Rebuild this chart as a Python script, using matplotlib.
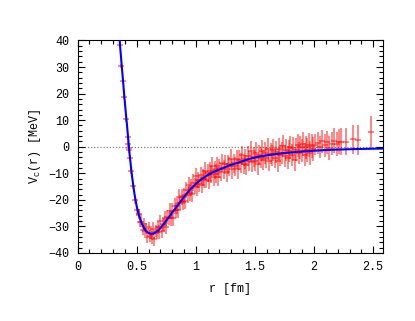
import matplotlib
matplotlib.use("Agg")
import matplotlib.pyplot as plt
from matplotlib.ticker import MultipleLocator

plt.rcParams['font.family'] = ['Liberation Mono', 'DejaVu Sans Mono']

# Fit curve (blue)
fit_r = [0.35, 0.36, 0.38, 0.40, 0.42, 0.43, 0.44, 0.46, 0.48, 0.50, 0.52, 0.54, 0.56, 0.58,
         0.60, 0.62, 0.64, 0.66, 0.68, 0.70, 0.73, 0.76, 0.80, 0.85, 0.90, 0.95, 1.00, 1.05,
         1.10, 1.15, 1.20, 1.28, 1.36, 1.45, 1.55, 1.65, 1.75, 1.85, 2.00, 2.15, 2.30, 2.45, 2.60]
fit_v = [44, 37.5, 27, 16.5, 7.0, 2.0, -3.0, -11.0, -17.5, -22.5, -26.0, -28.5, -30.5, -31.8,
         -32.5, -32.8, -32.7, -32.3, -31.6, -30.7, -29.0, -27.3, -24.8, -21.9, -18.9, -16.2, -14.0, -12.2,
         -10.7, -9.5, -8.6, -7.1, -6.0, -4.6, -3.6, -2.9, -2.4, -2.0, -1.5, -1.15, -0.95, -0.8, -0.7]

# Lattice data (red)
data_r = [0.356, 0.370, 0.381, 0.392, 0.413, 0.427, 0.425, 0.432, 0.436, 0.440, 0.455, 0.469, 0.488, 0.503, 0.517,
          0.52, 0.53, 0.54, 0.55, 0.56, 0.57, 0.58, 0.59, 0.60, 0.61, 0.62, 0.63, 0.64, 0.65, 0.66, 0.67,
          0.68, 0.69, 0.70, 0.71, 0.72, 0.73, 0.74, 0.75, 0.76, 0.77, 0.78, 0.79, 0.80, 0.81, 0.82, 0.83,
          0.84, 0.85, 0.86, 0.87, 0.88, 0.89, 0.90, 0.91, 0.92, 0.93, 0.94, 0.95, 0.96, 0.97, 0.98, 0.99,
          1.00, 1.01, 1.02, 1.03, 1.04, 1.05, 1.06, 1.07, 1.08, 1.09, 1.10, 1.11, 1.12, 1.13, 1.14, 1.15,
          1.16, 1.17, 1.18, 1.19,
          1.200, 1.212, 1.224, 1.236, 1.248, 1.260, 1.272, 1.284, 1.296, 1.308, 1.320, 1.332, 1.344, 1.356,
          1.368, 1.380, 1.392, 1.404, 1.416, 1.428, 1.440, 1.452, 1.464, 1.476, 1.488, 1.500, 1.512, 1.524,
          1.536, 1.548, 1.560, 1.572, 1.584, 1.596, 1.608, 1.620, 1.632, 1.644, 1.656, 1.668, 1.680, 1.692,
          1.704, 1.716, 1.728, 1.740, 1.752, 1.764, 1.776, 1.788, 1.800, 1.812, 1.824, 1.836, 1.848, 1.860,
          1.872, 1.884, 1.896, 1.908, 1.920, 1.932, 1.944, 1.956, 1.968, 1.980, 1.992,
          2.01, 2.03, 2.05, 2.07, 2.09, 2.11, 2.13, 2.15, 2.17, 2.19, 2.21, 2.23, 2.27, 2.33, 2.37, 2.48]
data_v = [38.2, 30.3, 24.8, 18.6, 10.3, 3.6, 1.0, -0.4, -1.2, -4.3, -9.0, -14.8, -20.0, -23.8, -25.7,
          -25.2, -28.5, -28.2, -31.5, -29.0, -31.7, -30.9, -33.9, -30.3, -33.5, -32.7, -34.2, -30.8, -34.9, -31.7, -32.2,
          -30.4, -32.2, -28.1, -31.9, -29.2, -29.6, -26.8, -30.1, -26.4, -27.0, -24.1, -27.0, -24.1, -27.0, -22.3, -24.0,
          -22.3, -23.8, -18.9, -21.1, -19.1, -20.8, -18.4, -20.5, -16.2, -18.0, -14.4, -17.4, -15.4, -17.9, -13.5, -14.7,
          -11.2, -15.3, -12.5, -13.9, -10.7, -14.3, -11.6, -12.3, -9.2, -12.4, -9.8, -12.8, -9.0, -10.5, -7.2, -11.3,
          -8.7, -10.1, -7.2, -11.4,
          -8.2, -9.6, -6.1, -8.5, -6.6, -9.7, -6.6, -7.4, -4.5, -8.4, -6.3, -7.4, -4.7, -8.5,
          -5.0, -6.2, -3.3, -6.7, -4.7, -7.0, -3.5, -5.4, -1.8, -5.8, -3.9, -5.2, -2.2, -6.6,
          -3.2, -4.1, -1.5, -5.1, -2.4, -4.2, -0.9, -5.2, -2.6, -3.2, -1.3, -4.2, -2.0, -5.2,
          -0.8, -3.2, -2.3, 0.3, -3.5, -1.2, -4.2, -1.6, -0.2, -3.0, -0.6, -5.0, -1.1, 0.5,
          -2.4, -0.2, -1.5, 1.0, -3.0, -0.3, -1.2, 0.6, -2.3, 0.3, -0.7,
          0.8, 1.5, -0.2, 2.0, 0.5, 1.6, -0.5, 1.2, 2.3, 0.9, 1.9, 1.9, 1.9, 2.8, 2.5, 5.4]
data_e = [0.8, 0.8, 0.8, 0.8, 0.9, 1.0, 1.2, 1.0, 1.0, 1.0, 1.2, 1.2, 1.4, 1.5, 1.6,
          1.8, 1.8, 2.0, 1.9, 2.0, 2.1, 2.0, 2.2, 2.1, 2.3, 2.2, 2.4, 2.3, 2.5, 2.4, 2.5,
          2.4, 2.6, 2.5, 2.6, 2.5, 2.7, 2.6, 2.8, 2.7, 2.6, 2.8, 2.7, 2.9, 2.8, 2.9, 2.8,
          3.0, 2.9, 3.0, 2.9, 3.0, 3.1, 3.0, 3.1, 3.0, 3.2, 3.1, 3.0, 3.2, 3.1, 3.2, 3.1,
          3.3, 3.2, 3.1, 3.3, 3.2, 3.3, 3.2, 3.4, 3.3, 3.2, 3.4, 3.3, 3.4, 3.3, 3.5, 3.4,
          3.3, 3.5, 3.4, 3.5,
          3.4, 3.5, 3.4, 3.6, 3.5, 3.6, 3.5, 3.6, 3.7, 3.6, 3.5, 3.7, 3.6, 3.7,
          3.6, 3.8, 3.7, 3.6, 3.8, 3.7, 3.8, 3.7, 3.9, 3.8, 3.7, 3.9, 3.8, 3.9,
          3.8, 4.0, 3.9, 3.8, 4.0, 3.9, 4.0, 4.1, 3.9, 4.0, 4.1, 4.0, 4.1, 4.2,
          4.1, 4.0, 4.2, 4.1, 4.2, 4.1, 4.3, 4.2, 4.3, 4.2, 4.4, 4.3, 4.2, 4.4,
          4.3, 4.4, 4.3, 4.5, 4.4, 4.5, 4.4, 4.6, 4.5, 4.6, 4.5,
          4.0, 4.2, 4.1, 4.3, 4.4, 4.2, 4.5, 4.4, 4.6, 4.5, 4.8, 5.0, 5.2, 5.5, 5.8, 6.2]

x_ticks = [0, 0.5, 1, 1.5, 2, 2.5]
x_tick_labels = ['0', '0.5', '1', '1.5', '2', '2.5']
y_ticks = [-40, -30, -20, -10, 0, 10, 20, 30, 40]

fig = plt.figure(figsize=(4.15, 3.21), dpi=100)
ax = fig.add_axes([0.187, 0.212, 0.735, 0.662])

ax.axhline(0, color='gray', linestyle=(0, (1, 1.5)), linewidth=0.9, zorder=1)
ax.errorbar(data_r, data_v, yerr=data_e, fmt='_', color='red', alpha=0.55,
            elinewidth=1.2, markersize=5, markeredgewidth=1.2, zorder=2)
ax.plot(fit_r, fit_v, color='blue', linewidth=1.5, zorder=3)

ax.set_xlim(0, 2.58)
ax.set_ylim(-40, 40)
ax.set_xticks(x_ticks)
ax.set_xticklabels(x_tick_labels)
ax.set_yticks(y_ticks)
ax.xaxis.set_minor_locator(MultipleLocator(0.1))
ax.yaxis.set_minor_locator(MultipleLocator(2))
ax.tick_params(which='both', direction='in', top=True, right=True, labelsize=8.5, pad=6)
ax.tick_params(which='major', length=5, width=0.8)
ax.tick_params(which='minor', length=3, width=0.8)
for s in ax.spines.values():
    s.set_linewidth(0.8)

ax.set_xlabel('r [fm]', fontsize=8.5, labelpad=7)
ax.set_ylabel(r'V$_{\mathregular{C}}$(r) [MeV]', fontsize=8.5, labelpad=4)

fig.savefig('out.png', dpi=100)
